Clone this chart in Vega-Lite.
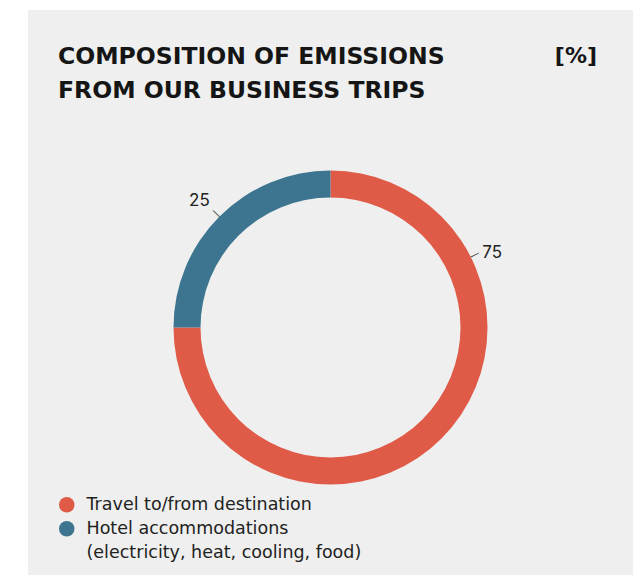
{
  "$schema": "https://vega.github.io/schema/vega-lite/v6.json",
  "width": 605,
  "height": 565,
  "autosize": {"type": "none"},
  "padding": {"left": 28, "top": 10, "right": 0, "bottom": 0},
  "background": "white",
  "view": {"fill": "#eeefee", "stroke": null},
  "config": {
    "view": {"fill": "#eeefee", "stroke": null},
    "font": "DejaVu Sans",
    "style": {"guide-label": {"lineHeight": 24}}
  },
  "title": {
    "text": ["COMPOSITION OF EMISSIONS", "FROM OUR BUSINESS TRIPS"],
    "anchor": "start",
    "frame": "group",
    "orient": "top",
    "offset": -92,
    "dx": 30,
    "fontSize": 23.5,
    "fontWeight": "bold",
    "lineHeight": 34,
    "color": "#151515",
    "font": "DejaVu Sans"
  },
  "data": {
    "values": [
      {"category": "Travel to/from destination", "value": 75},
      {"category": "Hotel accommodations\n(electricity, heat, cooling, food)", "value": 25}
    ]
  },
  "layer": [
    {
      "mark": {"type": "arc", "radius": 157, "innerRadius": 130, "yOffset": 35},
      "encoding": {
        "theta": {"field": "value", "type": "quantitative", "stack": true},
        "order": {"field": "value", "sort": "descending"},
        "color": {
          "field": "category",
          "type": "nominal",
          "scale": {
            "domain": ["Travel to/from destination", "Hotel accommodations\n(electricity, heat, cooling, food)"],
            "range": ["#df5b47", "#3d7590"]
          },
          "legend": {
            "orient": "none",
            "legendX": 30,
            "legendY": 486,
            "title": null,
            "symbolType": "circle",
            "symbolSize": 240,
            "symbolStrokeWidth": 0,
            "labelFontSize": 17.5,
            "labelFont": "DejaVu Sans",
            "labelColor": "#222222",
            "labelLimit": 0,
            "labelOffset": 11,
            "rowPadding": 5,
            "labelExpr": "split(datum.label, '\\n')"
          }
        }
      }
    },
    {
      "mark": {"type": "text", "radius": 182, "thetaOffset": -0.019, "yOffset": 35, "fontSize": 17, "font": "Inter", "color": "#222222", "align": "center", "baseline": "middle"},
      "encoding": {
        "theta": {"field": "value", "type": "quantitative", "stack": true},
        "order": {"field": "value", "sort": "descending"},
        "text": {"condition": {"test": "datum.value == 25", "field": "value"}, "value": ""}
      }
    },
    {
      "mark": {"type": "text", "radius": 178, "thetaOffset": -1.217, "yOffset": 35, "fontSize": 17, "font": "Inter", "color": "#222222", "align": "center", "baseline": "middle"},
      "encoding": {
        "theta": {"field": "value", "type": "quantitative", "stack": true},
        "order": {"field": "value", "sort": "descending"},
        "text": {"condition": {"test": "datum.value == 75", "field": "value"}, "value": ""}
      }
    },
    {
      "mark": {"type": "text", "radius": 161.5, "angle": 45, "yOffset": 35, "fontSize": 10, "font": "DejaVu Sans", "color": "#222222", "align": "center", "baseline": "middle"},
      "encoding": {
        "theta": {"field": "value", "type": "quantitative", "stack": true},
        "order": {"field": "value", "sort": "descending"},
        "text": {"condition": {"test": "datum.value == 25", "value": "—"}, "value": ""}
      }
    },
    {
      "mark": {"type": "text", "radius": 161.5, "angle": -27, "thetaOffset": -1.253, "yOffset": 35, "fontSize": 10, "font": "DejaVu Sans", "color": "#222222", "align": "center", "baseline": "middle"},
      "encoding": {
        "theta": {"field": "value", "type": "quantitative", "stack": true},
        "order": {"field": "value", "sort": "descending"},
        "text": {"condition": {"test": "datum.value == 75", "value": "—"}, "value": ""}
      }
    },
    {
      "data": {"values": [{"unit": "[%]"}]},
      "mark": {"type": "text", "x": {"expr": "width - 36"}, "y": 53, "align": "right", "baseline": "alphabetic", "fontSize": 22, "fontWeight": "bold", "font": "DejaVu Sans", "color": "#151515"},
      "encoding": {"text": {"field": "unit", "type": "nominal"}}
    }
  ]
}
